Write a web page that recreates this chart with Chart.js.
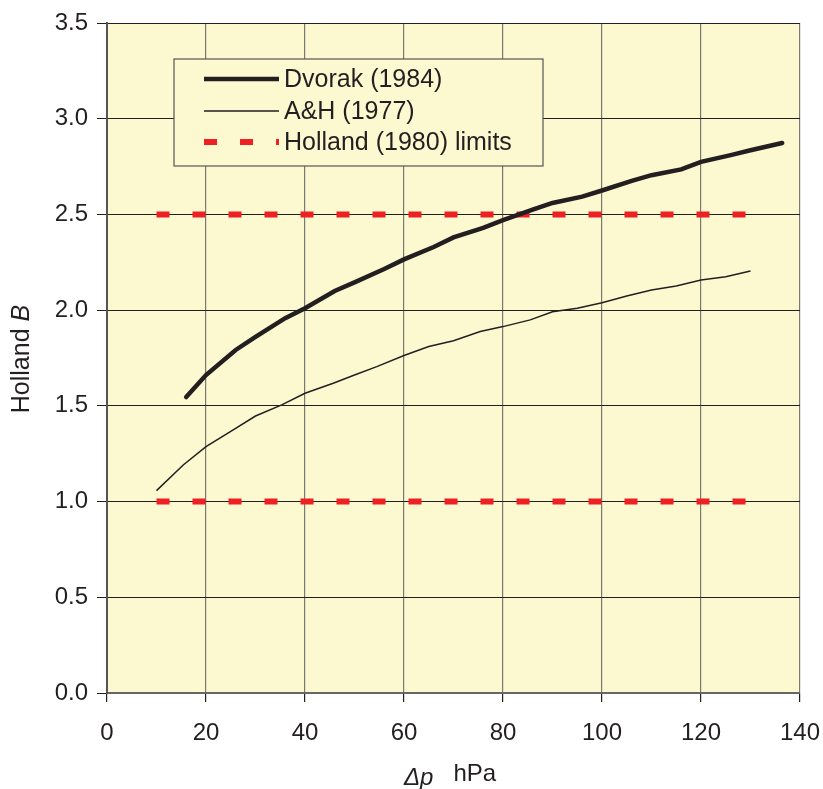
<!DOCTYPE html>
<html>
<head>
<meta charset="utf-8">
<script src="https://cdn.jsdelivr.net/npm/chart.js@4"></script>
<style>
  html, body { margin: 0; padding: 0; background: #fff; }
  #wrap { width: 823px; height: 789px; }
</style>
</head>
<body>
<div id="wrap"><canvas id="chart" width="823" height="789"></canvas></div>
<script>
// Dvorak (1984) curve
const dvorakX = [16, 20, 26, 30, 36, 40, 46, 50, 56, 60, 66, 70, 76, 80, 86, 90, 96, 100, 106, 110, 116, 120, 126, 130, 136.4];
const dvorakB = [1.546, 1.661, 1.792, 1.86, 1.958, 2.01, 2.10, 2.145, 2.215, 2.265, 2.33, 2.38, 2.43, 2.47, 2.525, 2.56, 2.593, 2.625, 2.675, 2.705, 2.735, 2.775, 2.81, 2.835, 2.873];

// A&H (1977) curve
const ahX = [10, 15.4, 20, 25.5, 30, 35.3, 40, 45.7, 50, 54.5, 60, 65, 70, 75.4, 80, 85.5, 90, 95, 100, 105, 110, 115, 120, 125, 130];
const ahB = [1.057, 1.191, 1.287, 1.374, 1.447, 1.505, 1.566, 1.618, 1.661, 1.705, 1.763, 1.81, 1.84, 1.888, 1.914, 1.949, 1.992, 2.01, 2.039, 2.074, 2.105, 2.126, 2.158, 2.175, 2.205];

// Holland (1980) limits
const limitX = [10, 130];
const limitLow = [1.0, 1.0];
const limitHigh = [2.5, 2.5];

const yTicks = [0, 0.5, 1, 1.5, 2, 2.5, 3, 3.5];
const xTicks = [0, 20, 40, 60, 80, 100, 120, 140];

const legendItems = ["Dvorak (1984)", "A&H (1977)", "Holland (1980) limits"];

const bg = "#fcf8d0";
const red = "#ee2024";
const ink = "#231f20";
const fontFam = "'Liberation Sans', Arial, sans-serif";

const pts = (xs, ys) => xs.map((x, i) => ({ x: x, y: ys[i] }));

const extras = {
  id: "extras",
  beforeDraw(chart) {
    const { ctx, chartArea: a } = chart;
    ctx.save();
    ctx.fillStyle = bg;
    ctx.fillRect(a.left, a.top, a.right - a.left, a.bottom - a.top);
    ctx.restore();
  },
  afterDraw(chart) {
    const { ctx, chartArea: a } = chart;
    ctx.save();
    // legend box
    const lx = a.left + 67, ly = a.top + 36, lw = 369, lh = 107;
    ctx.fillStyle = bg;
    ctx.fillRect(lx, ly, lw, lh);
    ctx.strokeStyle = "#555";
    ctx.lineWidth = 1.2;
    ctx.strokeRect(lx, ly, lw, lh);
    const rows = [ly + 20, ly + 52, ly + 83];
    const sx0 = lx + 30, sx1 = lx + 105;
    ctx.lineCap = "butt";
    ctx.strokeStyle = ink; ctx.lineWidth = 4.5;
    ctx.beginPath(); ctx.moveTo(sx0, rows[0]); ctx.lineTo(sx1, rows[0]); ctx.stroke();
    ctx.lineWidth = 1.5;
    ctx.beginPath(); ctx.moveTo(sx0, rows[1]); ctx.lineTo(sx1, rows[1]); ctx.stroke();
    ctx.strokeStyle = red; ctx.lineWidth = 6; ctx.setLineDash([13, 23]);
    ctx.beginPath(); ctx.moveTo(sx0, rows[2]); ctx.lineTo(sx1, rows[2]); ctx.stroke();
    ctx.setLineDash([]);
    ctx.fillStyle = ink;
    ctx.font = "25px " + fontFam;
    ctx.textBaseline = "middle";
    ctx.textAlign = "left";
    legendItems.forEach((t, i) => ctx.fillText(t, sx1 + 5, rows[i] + 1));

    // y axis title: Holland B
    ctx.save();
    ctx.translate(22, 359);
    ctx.rotate(-Math.PI / 2);
    ctx.textAlign = "left";
    ctx.font = "25px " + fontFam;
    const w1 = ctx.measureText("Holland ").width;
    ctx.font = "italic 25px " + fontFam;
    const w2 = ctx.measureText("B").width;
    let x0 = -(w1 + w2) / 2;
    ctx.font = "25px " + fontFam;
    ctx.fillText("Holland ", x0, 0);
    ctx.font = "italic 25px " + fontFam;
    ctx.fillText("B", x0 + w1, 0);
    ctx.restore();

    // x axis title: Δp  hPa
    ctx.font = "italic 24px " + fontFam;
    const d1 = ctx.measureText("\u0394p").width;
    ctx.font = "24px " + fontFam;
    const d2 = ctx.measureText("   hPa").width;
    let xs = 450 - (d1 + d2) / 2;
    ctx.font = "italic 24px " + fontFam;
    ctx.fillText("\u0394p", xs, 778);
    ctx.font = "24px " + fontFam;
    ctx.fillText("   hPa", xs + d1, 774);
    ctx.restore();
  }
};

new Chart(document.getElementById("chart"), {
  type: "scatter",
  data: {
    datasets: [
      { label: legendItems[0], data: pts(dvorakX, dvorakB), showLine: true, borderColor: ink, borderWidth: 4.5, pointRadius: 0, borderCapStyle: "round", order: 1 },
      { label: legendItems[1], data: pts(ahX, ahB), showLine: true, borderColor: ink, borderWidth: 1.5, pointRadius: 0, order: 2 },
      { label: legendItems[2], data: pts(limitX, limitHigh), showLine: true, borderColor: red, borderWidth: 6, borderDash: [13, 23], borderCapStyle: "butt", pointRadius: 0, order: 3 },
      { label: legendItems[2], data: pts(limitX, limitLow), showLine: true, borderColor: red, borderWidth: 6, borderDash: [13, 23], borderCapStyle: "butt", pointRadius: 0, order: 3 }
    ]
  },
  options: {
    responsive: false,
    animation: false,
    layout: { padding: { top: 23, right: 23, left: 0, bottom: 0 } },
    plugins: { legend: { display: false }, tooltip: { enabled: false } },
    scales: {
      x: {
        type: "linear",
        min: 0, max: 140,
        afterFit: s => { s.height = 96; s.paddingLeft = 0; s.paddingRight = 0; },
        afterBuildTicks: s => { s.ticks = xTicks.map(v => ({ value: v })); },
        grid: { color: "#7a7a72", lineWidth: 1.2, tickLength: 9, tickColor: ink },
        border: { color: "#666", width: 2 },
        ticks: { color: ink, font: { family: fontFam, size: 24 }, padding: 17 }
      },
      y: {
        min: 0, max: 3.5,
        afterFit: s => { s.width = 107; s.paddingTop = 0; s.paddingBottom = 0; },
        afterBuildTicks: s => { s.ticks = yTicks.map(v => ({ value: v })); },
        grid: { color: ink, lineWidth: 1, tickLength: 10, tickColor: ink },
        border: { color: "#555", width: 2 },
        ticks: { color: ink, font: { family: fontFam, size: 24 }, padding: 9, callback: v => v.toFixed(1) }
      }
    }
  },
  plugins: [extras]
});
</script>
</body>
</html>
